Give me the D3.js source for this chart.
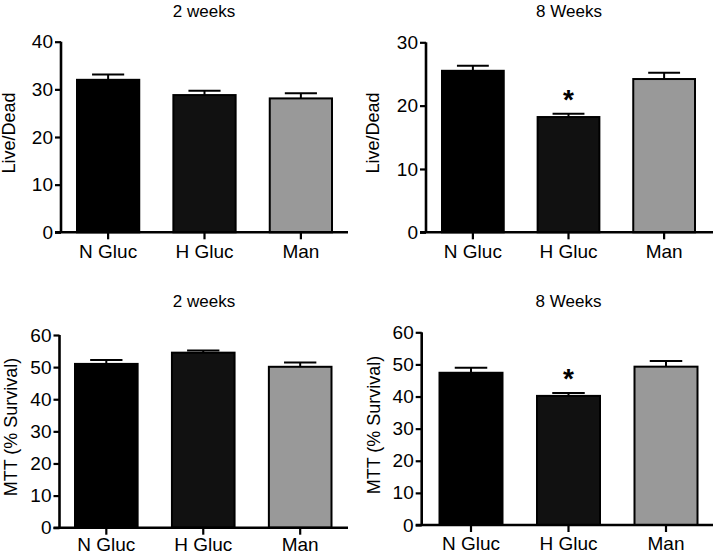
<!DOCTYPE html>
<html>
<head>
<meta charset="utf-8">
<script src="https://cdn.jsdelivr.net/npm/d3@7/dist/d3.min.js"></script>
<style>
  html, body { margin: 0; padding: 0; background: #fff; }
  svg { display: block; }
  text { font-family: "Liberation Sans", Arial, Helvetica, sans-serif; fill: #000; }
</style>
</head>
<body>
<svg id="chart" width="715" height="555"></svg>
<script>
// ---- data ----
const categories = ["N Gluc", "H Gluc", "Man"];
const barColors = ["#000000", "#111111", "#999999"];

const liveDead2w = [32.0, 28.8, 28.1];
const liveDead2wErr = [1.1, 0.9, 1.1];
const liveDead8w = [25.5, 18.2, 24.2];
const liveDead8wErr = [0.8, 0.5, 1.0];
const mtt2w = [51.0, 54.5, 50.1];
const mtt2wErr = [1.2, 0.7, 1.3];
const mtt8w = [47.4, 40.2, 49.3];
const mtt8wErr = [1.6, 0.9, 1.8];
const sig8w = [false, true, false];
const sig2w = [false, false, false];

const liveDeadTicks40 = [0, 10, 20, 30, 40];
const liveDeadTicks30 = [0, 10, 20, 30];
const mttTicks = [0, 10, 20, 30, 40, 50, 60];

const titles = ["2 weeks", "8 Weeks", "2 weeks", "8 Weeks"];
const yLabels = ["Live/Dead", "Live/Dead", "MTT (% Survival)", "MTT (% Survival)"];

// ---- layout (positions only) ----
const panels = [
  { values: liveDead2w, errs: liveDead2wErr, sig: sig2w, ticks: liveDeadTicks40, ymax: 40,
    axisX: 61, axisEnd: 348, barRange: [76, 333], yRange: [232.3, 41.7],
    titleX: 204, titleY: 17, labelX: 15, labelY: 133, xLabelY: 258 },
  { values: liveDead8w, errs: liveDead8wErr, sig: sig8w, ticks: liveDeadTicks30, ymax: 30,
    axisX: 426, axisEnd: 713, barRange: [441, 696], yRange: [232.3, 42.3],
    titleX: 569, titleY: 17, labelX: 379, labelY: 133, xLabelY: 258 },
  { values: mtt2w, errs: mtt2wErr, sig: sig2w, ticks: mttTicks, ymax: 60,
    axisX: 59.5, axisEnd: 348, barRange: [74, 332.5], yRange: [527.7, 335],
    titleX: 204, titleY: 307, labelX: 17, labelY: 427, xLabelY: 551 },
  { values: mtt8w, errs: mtt8wErr, sig: sig8w, ticks: mttTicks, ymax: 60,
    axisX: 421.7, axisEnd: 713, barRange: [438.5, 698.5], yRange: [525, 332.3],
    titleX: 568.5, titleY: 307, labelX: 380, labelY: 425, xLabelY: 550 }
];

const svg = d3.select("#chart");
const FONT = 19;

panels.forEach((p, pi) => {
  const g = svg.append("g");
  const y = d3.scaleLinear().domain([0, p.ymax]).range(p.yRange);
  const x = d3.scaleBand().domain(categories).range(p.barRange).paddingInner(1 / 3).paddingOuter(0);
  const y0 = y(0);

  // bars
  g.selectAll("rect.bar").data(categories).join("rect")
    .attr("class", "bar")
    .attr("x", d => x(d) + 1)
    .attr("width", x.bandwidth() - 2)
    .attr("y", (d, i) => y(p.values[i]))
    .attr("height", (d, i) => y0 - y(p.values[i]))
    .attr("fill", (d, i) => barColors[i])
    .attr("stroke", "#000")
    .attr("stroke-width", 2);

  // error bars (upper only)
  const capHalf = x.bandwidth() / 4;
  categories.forEach((c, i) => {
    const cx = x(c) + x.bandwidth() / 2;
    const top = y(p.values[i] + p.errs[i]);
    g.append("line").attr("x1", cx).attr("x2", cx)
      .attr("y1", y(p.values[i])).attr("y2", top)
      .attr("stroke", "#000").attr("stroke-width", 2);
    g.append("line").attr("x1", cx - capHalf).attr("x2", cx + capHalf)
      .attr("y1", top).attr("y2", top)
      .attr("stroke", "#000").attr("stroke-width", 2);
    if (p.sig[i]) {
      g.append("text").attr("x", cx).attr("y", top - 5)
        .attr("text-anchor", "middle")
        .style("font-size", "28px").style("font-weight", "bold")
        .text("*");
    }
  });

  // y axis
  const yAxis = d3.axisLeft(y).tickValues(p.ticks).tickSize(6).tickPadding(2).tickFormat(d3.format("d"));
  const ya = g.append("g").attr("transform", `translate(${p.axisX},0)`).call(yAxis);
  ya.select(".domain").attr("d", `M0,${p.yRange[1]}V${y0}`).attr("stroke-width", 2.6).attr("stroke", "#000");
  ya.selectAll(".tick line").attr("stroke-width", 2.2).attr("stroke", "#000");
  ya.selectAll(".tick text").style("font-size", FONT + "px").style("font-family", "Liberation Sans, Arial, sans-serif").attr("fill", "#000");

  // x axis
  const xAxis = d3.axisBottom(x).tickSize(7).tickPadding(7);
  const xa = g.append("g").attr("transform", `translate(0,${y0})`).call(xAxis);
  xa.select(".domain").attr("d", `M${p.axisX - 6},0H${p.axisEnd}`).attr("stroke-width", 2.6).attr("stroke", "#000");
  xa.selectAll(".tick line").attr("stroke-width", 2.2).attr("stroke", "#000");
  xa.selectAll(".tick text").style("font-size", FONT + "px").style("font-family", "Liberation Sans, Arial, sans-serif").attr("fill", "#000")
    .attr("dy", null)
    .attr("y", p.xLabelY - y0);

  // title
  svg.append("text").attr("x", p.titleX).attr("y", p.titleY)
    .attr("text-anchor", "middle").style("font-size", "17px")
    .text(titles[pi]);

  // y label
  svg.append("text")
    .attr("transform", `translate(${p.labelX},${p.labelY}) rotate(-90)`)
    .attr("text-anchor", "middle").style("font-size", "18px")
    .text(yLabels[pi]);
});
</script>
</body>
</html>
